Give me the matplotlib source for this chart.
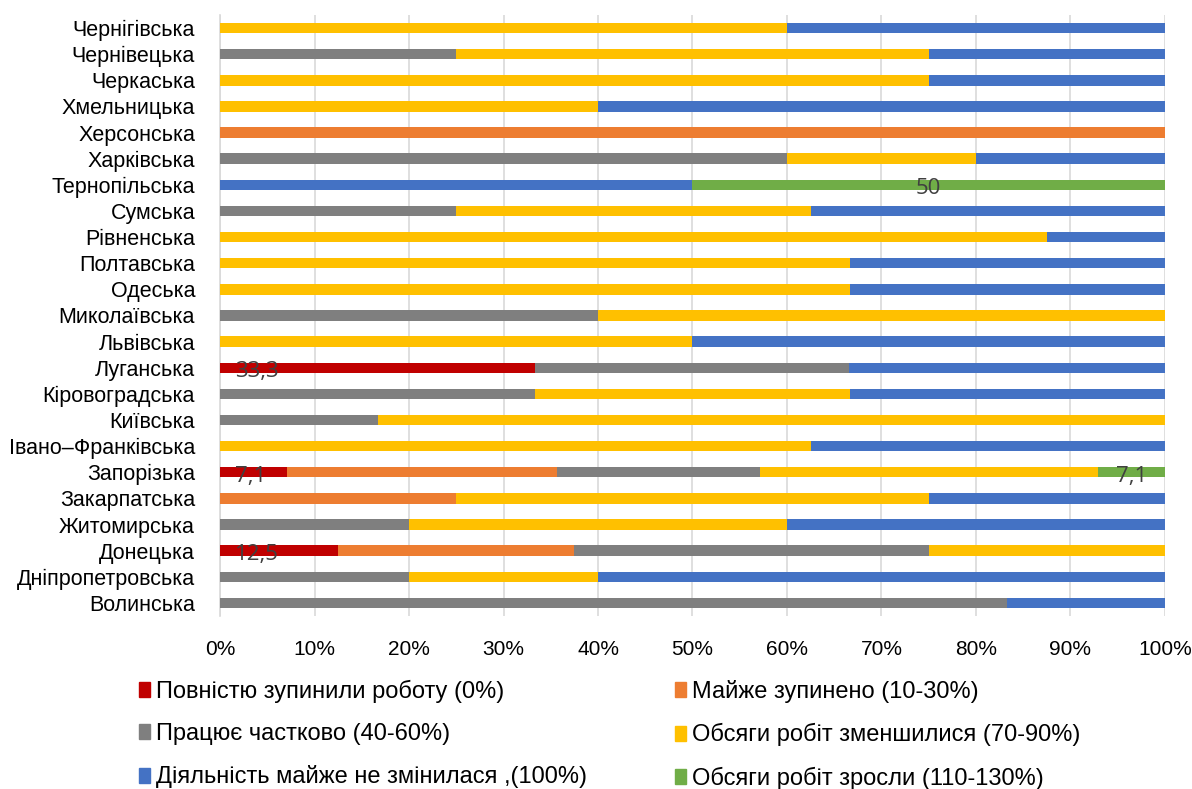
import numpy as np
import matplotlib
matplotlib.use("Agg")
import matplotlib.pyplot as plt
from matplotlib.patches import Patch
from matplotlib.ticker import PercentFormatter

plt.rcParams['font.family'] = ['Liberation Sans', 'DejaVu Sans']

# regions, bottom to top
regions = ["Волинська", "Дніпропетровська", "Донецька", "Житомирська", "Закарпатська",
           "Запорізька", "Івано–Франківська", "Київська", "Кіровоградська", "Луганська",
           "Львівська", "Миколаївська", "Одеська", "Полтавська", "Рівненська", "Сумська",
           "Тернопільська", "Харківська", "Херсонська", "Хмельницька", "Черкаська",
           "Чернівецька", "Чернігівська"]

stopped   = [0, 0, 12.5, 0, 0, 7.1, 0, 0, 0, 33.3, 0, 0, 0, 0, 0, 0, 0, 0, 0, 0, 0, 0, 0]
almost    = [0, 0, 25, 0, 25, 28.6, 0, 0, 0, 0, 0, 0, 0, 0, 0, 0, 0, 0, 100, 0, 0, 0, 0]
partial   = [83.3, 20, 37.5, 20, 0, 21.4, 0, 16.7, 33.3, 33.3, 0, 40, 0, 0, 0, 25, 0, 60, 0, 0, 0, 25, 0]
decreased = [0, 20, 25, 40, 50, 35.8, 62.5, 83.3, 33.4, 0, 50, 60, 66.7, 66.7, 87.5, 37.5, 0, 20, 0, 40, 75, 50, 60]
same      = [16.7, 60, 0, 40, 25, 0, 37.5, 0, 33.3, 33.4, 50, 0, 33.3, 33.3, 12.5, 37.5, 50, 20, 0, 60, 25, 25, 40]
grew      = [0, 0, 0, 0, 0, 7.1, 0, 0, 0, 0, 0, 0, 0, 0, 0, 0, 50, 0, 0, 0, 0, 0, 0]

series = [
    ("Повністю зупинили роботу (0%)", stopped, "#C00000"),
    ("Майже зупинено (10-30%)", almost, "#ED7D31"),
    ("Працює частково (40-60%)", partial, "#7F7F7F"),
    ("Обсяги робіт зменшилися (70-90%)", decreased, "#FFC000"),
    ("Діяльність майже не змінилася ,(100%)", same, "#4472C4"),
    ("Обсяги робіт зросли (110-130%)", grew, "#70AD47"),
]

fig = plt.figure(figsize=(11.92, 7.89), dpi=100)
ax = fig.add_axes([0.1846, 0.2193, 0.7927, 0.7617])

y = np.arange(len(regions))
left = np.zeros(len(regions))
for name, vals, col in series:
    vals = np.array(vals, dtype=float)
    ax.barh(y, vals, left=left, height=0.4, color=col, label=name, zorder=3)
    left += vals

# data labels
label_col = "#404040"
lab_font = ['Open Sans', 'DejaVu Sans']
for i, v in enumerate(stopped):
    if v > 0:
        ax.text(1.6, i - 0.15, str(v).replace('.', ','), ha='left', va='center',
                fontsize=16, color=label_col, family=lab_font, zorder=4)
gstart = np.array(stopped) + np.array(almost) + np.array(partial) + np.array(decreased) + np.array(same)
for i, v in enumerate(grew):
    if v > 0:
        txt = str(int(v)) if v == int(v) else str(v).replace('.', ',')
        ax.text(gstart[i] + v / 2, i - 0.15, txt, ha='center', va='center',
                fontsize=16, color=label_col, family=lab_font, zorder=4)

ax.set_xlim(0, 100)
ax.set_ylim(-0.5, len(regions) - 0.5)
ax.set_yticks(y)
ax.set_yticklabels(regions, fontsize=15.5)
ax.set_xticks(np.arange(0, 101, 10))
ax.xaxis.set_major_formatter(PercentFormatter(decimals=0))
ax.tick_params(axis='x', labelsize=15, length=0, pad=17)
ax.tick_params(axis='y', length=0, pad=18)
ax.grid(axis='x', color='#D9D9D9', linewidth=1.2, zorder=0)
for s in ['top', 'right', 'bottom']:
    ax.spines[s].set_visible(False)
ax.spines['left'].set_color('#D9D9D9')
ax.spines['left'].set_linewidth(1.2)

handles = [Patch(color=c, label=n) for n, _, c in series]
order = [0, 2, 4, 1, 3, 5]
fig.legend([handles[k] for k in order], [series[k][0] for k in order],
           loc='upper left', bbox_to_anchor=(0.099, 0.165), ncol=2, frameon=False,
           fontsize=17, handlelength=0.45, handleheight=0.6, handletextpad=0.25,
           columnspacing=3.75, labelspacing=0.85)

fig.savefig("out.png", dpi=100)
